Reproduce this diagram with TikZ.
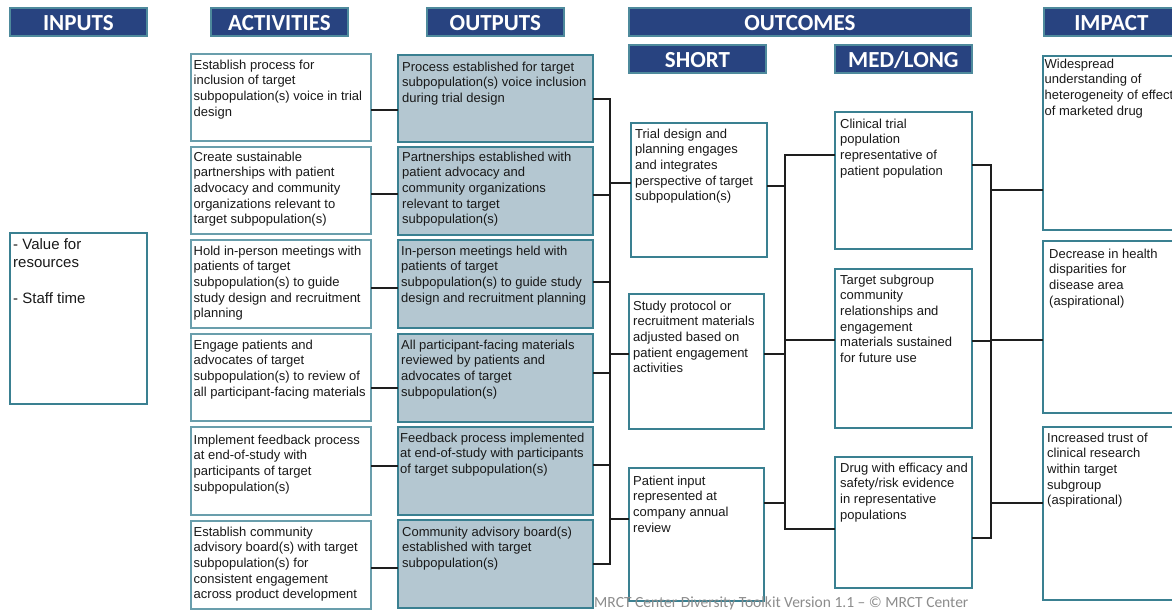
\documentclass[tikz,border=0pt]{standalone}
\usepackage{fontspec}
\setmainfont{Liberation Sans}
\newfontfamily\hdrfont{Carlito}
\definecolor{navy}{RGB}{40,67,128}
\definecolor{hdrborder}{RGB}{78,138,156}
\definecolor{tealb}{RGB}{58,128,145}
\definecolor{actb}{RGB}{105,158,172}
\definecolor{outfill}{RGB}{180,199,209}
\definecolor{txtc}{RGB}{25,25,25}
\definecolor{footc}{RGB}{140,140,140}
\definecolor{connc}{RGB}{30,30,30}
\tikzset{
  hdr/.style={draw=hdrborder, line width=1.8pt, fill=navy, text=white,
    font=\hdrfont\bfseries\fontsize{23}{26}\selectfont, inner sep=0pt,
    text height=16.5pt, text depth=0pt},
  actbox/.style={draw=actb, line width=1.5pt, fill=white, inner sep=0pt},
  outbox/.style={draw=tealb, line width=2.4pt, fill=outfill, inner sep=0pt},
  resbox/.style={draw=tealb, line width=2.4pt, fill=white, inner sep=0pt},
  txt/.style={font=\fontsize{13}{15.6}\selectfont, text=txtc, align=left,
    inner sep=0pt, anchor=north west},
  conn/.style={draw=connc, line width=2pt, line cap=rect}
}
\newcommand\mkbox[6]{\node[#2, anchor=north west, minimum width={#5-#3}, minimum height={#6-#4}] (#1) at (#3,#4) {};}
\newcommand\bt[4]{\node[txt] (#1-t) at ([xshift=#2pt,yshift={10.9pt-#3pt}]#1.north west) {\strut #4};}
\newcommand\hd[6]{\node[hdr, anchor=north west, minimum width={#4-#2}, minimum height={#5-#3}] (#1) at (#2,#3) {#6};}
\begin{document}
\begin{tikzpicture}[x=1pt,y=-1pt]
\useasboundingbox (0,0) rectangle (1172,611);
\clip (0,0) rectangle (1172,611);
\fill[white] (0,0) rectangle (1172,611);

% headers
\hd{hIn}{9}{7}{146}{35}{INPUTS}
\hd{hAct}{210}{7}{347}{35}{ACTIVITIES}
\hd{hOut}{426}{7}{563}{35}{OUTPUTS}
\hd{hOutc}{628}{7}{970}{35}{OUTCOMES}
\hd{hShort}{628}{44}{765}{72}{SHORT}
\hd{hMed}{834}{44}{971}{72}{MED/LONG}
\hd{hImp}{1043}{7}{1178}{35}{IMPACT}

% inputs
\mkbox{inp}{resbox}{9}{232}{146}{403}
\node[font=\fontsize{15}{18.5}\selectfont, text=txtc, align=left, inner sep=0pt, anchor=north west]
  (inp-t) at ([xshift=4pt,yshift={12.95pt-17pt}]inp.north west)
  {\strut - Value for\\resources\\[17pt]- Staff time};

% activities
\mkbox{act1}{actbox}{190}{53}{370}{140}
\mkbox{act2}{actbox}{190}{146}{370}{233}
\mkbox{act3}{actbox}{190}{239}{370}{327}
\mkbox{act4}{actbox}{190}{333}{370}{420}
\mkbox{act5}{actbox}{190}{426}{370}{514}
\mkbox{act6}{actbox}{190}{520}{370}{608}
\bt{act1}{3.5}{16}{Establish process for\\inclusion of target\\subpopulation(s) voice in trial\\design}
\bt{act2}{3.5}{15}{Create sustainable\\partnerships with patient\\advocacy and community\\organizations relevant to\\target subpopulation(s)}
\bt{act3}{3.5}{16}{Hold in-person meetings with\\patients of target\\subpopulation(s) to guide\\study design and recruitment\\planning}
\bt{act4}{3.5}{16}{Engage patients and\\advocates of target\\subpopulation(s) to review of\\all participant-facing materials}
\bt{act5}{3.5}{18}{Implement feedback process\\at end-of-study with\\participants of target\\subpopulation(s)}
\bt{act6}{3.5}{16}{Establish community\\advisory board(s) with target\\subpopulation(s) for\\consistent engagement\\across product development}

% outputs
\mkbox{out1}{outbox}{397}{54}{592}{141}
\mkbox{out2}{outbox}{397}{146}{592}{234}
\mkbox{out3}{outbox}{397}{239}{592}{327}
\mkbox{out4}{outbox}{397}{333}{592}{421}
\mkbox{out5}{outbox}{397}{426}{592}{514}
\mkbox{out6}{outbox}{397}{519}{592}{607}
\bt{out1}{5}{17}{Process established for target\\subpopulation(s) voice inclusion\\during trial design}
\bt{out2}{5}{15}{Partnerships established with\\patient advocacy and\\community organizations\\relevant to target\\subpopulation(s)}
\bt{out3}{4}{16}{In-person meetings held with\\patients of target\\subpopulation(s) to guide study\\design and recruitment planning}
\bt{out4}{4}{16}{All participant-facing materials\\reviewed by patients and\\advocates of target\\subpopulation(s)}
\bt{out5}{3}{16}{Feedback process implemented\\at end-of-study with participants\\of target subpopulation(s)}
\bt{out6}{5}{17}{Community advisory board(s)\\established with target\\subpopulation(s)}

% short outcomes
\mkbox{sh1}{resbox}{630}{122}{766}{256}
\mkbox{sh2}{resbox}{628}{293}{763}{428}
\mkbox{sh3}{resbox}{628}{467}{763}{600}
\bt{sh1}{5}{16}{Trial design and\\planning engages\\and integrates\\perspective of target\\subpopulation(s)}
\bt{sh2}{5}{17}{Study protocol or\\recruitment materials\\adjusted based on\\patient engagement\\activities}
\bt{sh3}{5}{18}{Patient input\\represented at\\company annual\\review}

% med/long outcomes
\mkbox{md1}{resbox}{834}{111}{971}{248}
\mkbox{md2}{resbox}{834}{268}{971}{427}
\mkbox{md3}{resbox}{834}{456}{971}{587}
\bt{md1}{6}{17}{Clinical trial\\population\\representative of\\patient population}
\bt{md2}{6}{16}{Target subgroup\\community\\relationships and\\engagement\\materials sustained\\for future use}
\bt{md3}{6}{16}{Drug with efficacy and\\safety/risk evidence\\in representative\\populations}

% impact
\mkbox{im1}{resbox}{1042}{55}{1190}{229}
\mkbox{im2}{resbox}{1042}{240}{1190}{412}
\mkbox{im3}{resbox}{1042}{426}{1190}{599}
\bt{im1}{2.5}{13}{Widespread\\understanding of\\heterogeneity of effect\\of marketed drug}
\bt{im2}{7}{18}{Decrease in health\\disparities for\\disease area\\(aspirational)}
\bt{im3}{5}{16}{Increased trust of\\clinical research\\within target\\subgroup\\(aspirational)}

% bus x positions
\coordinate (busA) at (610,0);
\coordinate (busB) at (785,0);
\coordinate (busC) at (991,0);

% activities -> outputs
\coordinate (a1) at ([yshift=-12.5pt]act1.east);
\coordinate (a2) at ([yshift=-3.5pt]act2.east);
\coordinate (a3) at ([yshift=-4pt]act3.east);
\coordinate (a4) at ([yshift=-10.5pt]act4.east);
\coordinate (a5) at ([yshift=5pt]act5.east);
\coordinate (a6) at ([yshift=-3pt]act6.east);
\draw[conn] (a1) -- (a1 -| out1.west);
\draw[conn] (a2) -- (a2 -| out2.west);
\draw[conn] (a3) -- (a3 -| out3.west);
\draw[conn] (a4) -- (a4 -| out4.west);
\draw[conn] (a5) -- (a5 -| out5.west);
\draw[conn] (a6) -- (a6 -| out6.west);

% outputs -> bus A
\coordinate (o1) at ([yshift=0pt]out1.east);
\coordinate (o2) at ([yshift=-4pt]out2.east);
\coordinate (o3) at ([yshift=2pt]out3.east);
\coordinate (o4) at ([yshift=5pt]out4.east);
\coordinate (o5) at ([yshift=6pt]out5.east);
\coordinate (o6) at ([yshift=0pt]out6.east);
\foreach \i in {1,...,6} {\draw[conn] (o\i) -- (o\i -| busA);}
\draw[conn] (o1 -| busA) -- (o6 -| busA);
% bus A -> short
\coordinate (s1l) at ([yshift=7pt]sh1.west);
\coordinate (s2l) at ([yshift=7.5pt]sh2.west);
\coordinate (s3l) at ([yshift=15.5pt]sh3.west);
\foreach \i in {1,2,3} {\draw[conn] (s\i l -| busA) -- (s\i l);}

% short -> bus B
\coordinate (s1r) at ([yshift=4pt]sh1.east);
\coordinate (s2r) at ([yshift=7.5pt]sh2.east);
\coordinate (s3r) at ([yshift=31.5pt]sh3.east);
\foreach \i in {1,2,3} {\draw[conn] (s\i r) -- (s\i r -| busB);}
\coordinate (m1l) at ([yshift=25.5pt]md1.west);
\coordinate (m2l) at ([yshift=8.5pt]md2.west);
\coordinate (m3l) at ([yshift=-6.5pt]md3.west);
\foreach \i in {1,2,3} {\draw[conn] (m\i l -| busB) -- (m\i l);}
\draw[conn] (m1l -| busB) -- (m3l -| busB);

% med -> bus C
\coordinate (m1r) at ([yshift=15.5pt]md1.east);
\coordinate (m2r) at ([yshift=7.5pt]md2.east);
\coordinate (m3r) at ([yshift=-15.5pt]md3.east);
\foreach \i in {1,2,3} {\draw[conn] (m\i r) -- (m\i r -| busC);}
\draw[conn] (m1r -| busC) -- (m3r -| busC);
\coordinate (i1l) at ([yshift=-47pt]im1.west);
\coordinate (i2l) at ([yshift=-13pt]im2.west);
\coordinate (i3l) at ([yshift=10.5pt]im3.west);
\foreach \i in {1,2,3} {\draw[conn] (i\i l -| busC) -- (i\i l);}

% footer
\node[font=\hdrfont\fontsize{15.5}{18}\selectfont, text=footc, anchor=base west, inner sep=0pt]
  (foot) at (594,607.5) {MRCT Center Diversity Toolkit Version 1.1 – © MRCT Center};
\end{tikzpicture}
\end{document}
